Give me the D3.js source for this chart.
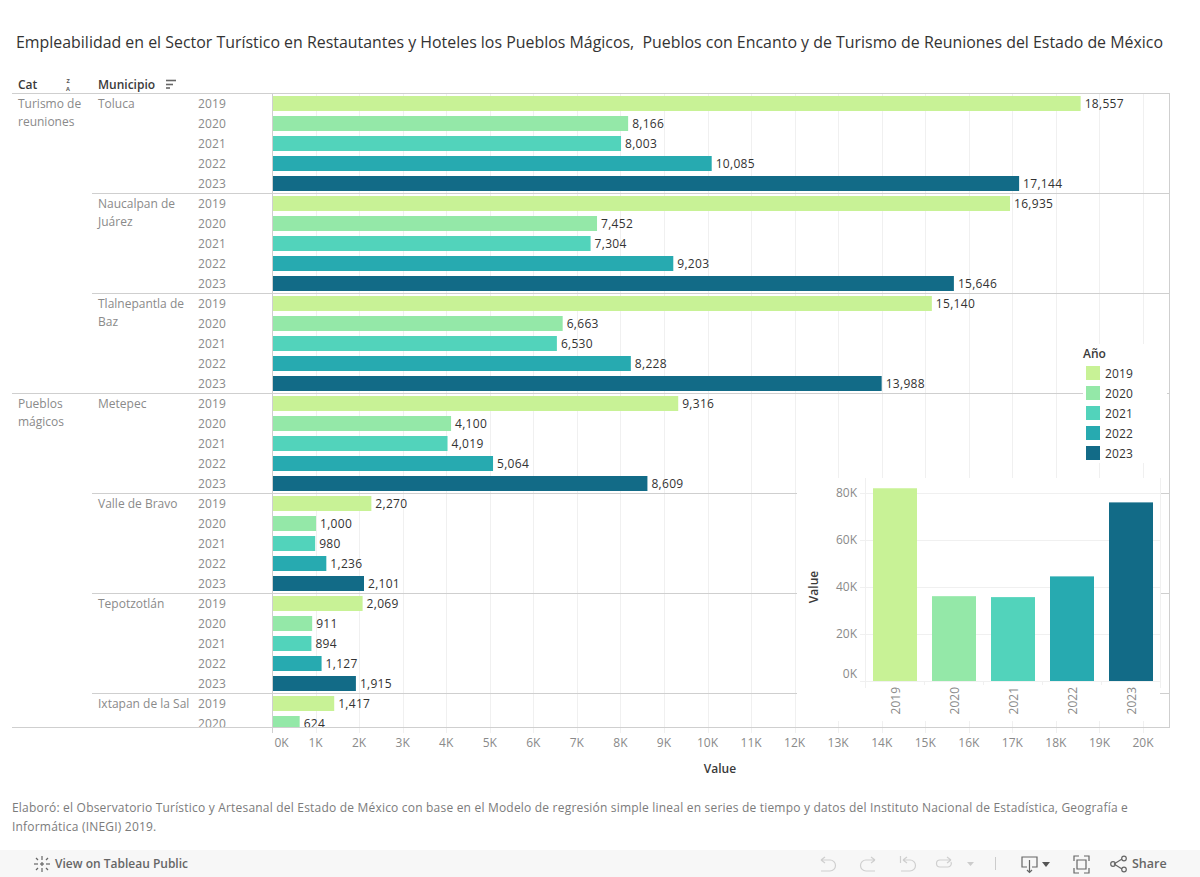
<!DOCTYPE html>
<html><head><meta charset="utf-8">
<script src="https://cdnjs.cloudflare.com/ajax/libs/d3/7.8.5/d3.min.js"></script>
<style>
html,body{margin:0;padding:0;background:#fff;overflow:hidden}
svg{display:block}
text{font-family:"Open Sans",sans-serif;font-size:12px}
</style></head><body><svg id="c" width="1200" height="877"></svg>
<script>
const titleText="Empleabilidad en el Sector Turístico en Restautantes y Hoteles los Pueblos Mágicos,  Pueblos con Encanto y de Turismo de Reuniones del Estado de México";
const footnoteLines=["Elaboró: el Observatorio Turístico y Artesanal del Estado de México con base en el Modelo de regresión simple lineal en series de tiempo y datos del Instituto Nacional de Estadística, Geografía e","Informática (INEGI) 2019."];
const years=["2019","2020","2021","2022","2023"];
const yearColors=["#c8f296","#94e8a8","#52d3bb","#27aab0","#126b87"];
const categories=["Turismo de reuniones","Pueblos mágicos"];
const categoryLines=[["Turismo de","reuniones"],["Pueblos","mágicos"]];
const municipioLines=[["Toluca"],["Naucalpan de","Juárez"],["Tlalnepantla de","Baz"],["Metepec"],["Valle de Bravo"],["Tepotzotlán"],["Ixtapan de la Sal"]];
const municipioCategory=[0,0,0,1,1,1,1];
const toluca=[18557,8166,8003,10085,17144];
const naucalpan=[16935,7452,7304,9203,15646];
const tlalnepantla=[15140,6663,6530,8228,13988];
const metepec=[9316,4100,4019,5064,8609];
const valleDeBravo=[2270,1000,980,1236,2101];
const tepotzotlan=[2069,911,894,1127,1915];
const ixtapan=[1417,624];
const municipioValues=[toluca,naucalpan,tlalnepantla,metepec,valleDeBravo,tepotzotlan,ixtapan];
const insetTotals=[81800,36000,35600,44400,75800];
const xTicks=d3.range(0,21000,1000);
const insetTicks=[0,20000,40000,60000,80000];

const FONT='"Open Sans",sans-serif';
const grey="#8a8a8a",dark="#333",lineC="#cfcfcf",gridC="#f0f0f0";
const svg=d3.select("#c");
const kFmt=d=>(d/1000)+"K";
const numFmt=d3.format(",");

svg.append("text").attr("x",16).attr("y",48).attr("fill",dark)
  .attr("textLength",1147).attr("lengthAdjust","spacingAndGlyphs")
  .style("font-size","15.5px").style("white-space","pre").text(titleText);

// rows
const rows=[];
municipioValues.forEach((vals,m)=>vals.forEach((v,i)=>rows.push({m,i,v})));
const totalRows=municipioValues.length*5;
const x=d3.scaleLinear().domain([0,20000]).range([272.5,1143.5]);
const y=d3.scaleBand().domain(d3.range(totalRows)).range([93.5,93.5+totalRows*20]).paddingInner(.25).paddingOuter(.125);
const rowIndex=d=>d.m*5+d.i;
const rowTop=i=>93.5+i*20;

const defs=svg.append("defs");
defs.append("clipPath").attr("id","pane").append("rect").attr("x",0).attr("y",94).attr("width",1200).attr("height",633);

// header
const hdr=svg.append("g").attr("fill","#3a3a3a").style("font-weight",600);
hdr.append("text").attr("x",18).attr("y",89).text("Cat");
hdr.append("text").attr("x",98).attr("y",89).text("Municipio");
const za=svg.append("g").attr("fill","#555").style("font-weight",700);
za.append("text").attr("x",68).attr("y",82.8).attr("text-anchor","middle").style("font-size","5.6px").text("Z");
za.append("text").attr("x",68).attr("y",90.6).attr("text-anchor","middle").style("font-size","5.6px").text("A");
[[166,176,80.5],[166,173,84.5],[166,170,88]].forEach(s=>svg.append("line").attr("x1",s[0]).attr("x2",s[1]).attr("y1",s[2]).attr("y2",s[2]).attr("stroke","#666").attr("stroke-width",1.6));

// grid + x axis
const xAxisG=svg.append("g").attr("transform","translate(0,727)")
  .call(d3.axisBottom(x).tickValues(xTicks).tickFormat(kFmt).tickSize(0).tickPadding(11));
xAxisG.select(".domain").remove();
xAxisG.selectAll("text").attr("fill",grey).style("font-family",FONT).style("font-size","12px").attr("dx",-1);
xAxisG.selectAll("g.tick").filter(d=>d===0).select("text").attr("dx",8.5);
svg.append("g").selectAll("line").data(xTicks.slice(1)).join("line")
  .attr("x1",d=>Math.floor(x(d))+.5).attr("x2",d=>Math.floor(x(d))+.5).attr("y1",94).attr("y2",733)
  .attr("stroke",gridC);

// panes
const pane=svg.append("g").attr("clip-path","url(#pane)");
pane.selectAll("rect.bar").data(rows).join("rect").attr("class","bar")
  .attr("x",x(0)).attr("y",d=>y(rowIndex(d))).attr("width",d=>x(d.v)-x(0)).attr("height",y.bandwidth())
  .attr("fill",d=>yearColors[d.i]);
pane.selectAll("text.val").data(rows).join("text").attr("class","val")
  .attr("x",d=>x(d.v)+4).attr("y",d=>y(rowIndex(d))+y.bandwidth()/2+4.5).attr("fill",dark).style("letter-spacing",".3px").text(d=>numFmt(d.v));
pane.selectAll("text.yr").data(rows).join("text").attr("class","yr")
  .attr("x",198).attr("y",d=>y(rowIndex(d))+y.bandwidth()/2+4.5).attr("fill",grey).style("letter-spacing",".15px").text(d=>years[d.i]);
municipioLines.forEach((ls,m)=>ls.forEach((t,j)=>pane.append("text").attr("x",98).attr("y",rowTop(m*5)+14.5+j*18).attr("fill",grey).text(t)));
categoryLines.forEach((ls,c)=>{const first=municipioCategory.indexOf(c);
  ls.forEach((t,j)=>pane.append("text").attr("x",18).attr("y",rowTop(first*5)+14.5+j*18).attr("fill",grey).text(t));});

// separators
const seps=d3.range(1,municipioValues.length);
svg.append("g").selectAll("line").data(seps).join("line")
  .attr("x1",m=>municipioCategory[m]!==municipioCategory[m-1]?12:92).attr("x2",1169)
  .attr("y1",m=>rowTop(m*5)).attr("y2",m=>rowTop(m*5)).attr("stroke",lineC);
const frame=svg.append("g").attr("stroke",lineC).attr("fill","none");
frame.append("line").attr("x1",12).attr("x2",1170).attr("y1",93.5).attr("y2",93.5);
frame.append("line").attr("x1",12).attr("x2",1170).attr("y1",727.5).attr("y2",727.5);
frame.append("line").attr("x1",272.5).attr("x2",272.5).attr("y1",93).attr("y2",733);
frame.append("line").attr("x1",1169.5).attr("x2",1169.5).attr("y1",93).attr("y2",728);

// legend
svg.append("rect").attr("x",1083).attr("y",344).attr("width",84).attr("height",119).attr("fill","#fff");
svg.append("text").attr("x",1083).attr("y",358).attr("fill","#3a3a3a").style("font-weight",600).text("Año");
const leg=svg.append("g").selectAll("g").data(years).join("g").attr("transform",(d,i)=>`translate(1086,${366+i*20})`);
leg.append("rect").attr("width",14).attr("height",14).attr("fill",(d,i)=>yearColors[i]);
leg.append("text").attr("x",19).attr("y",11.5).attr("fill",dark).style("letter-spacing",".15px").text(d=>d);

// inset
svg.append("rect").attr("x",797).attr("y",478).attr("width",363).attr("height",243).attr("fill","#fff");
const ix=d3.scaleBand().domain(years).range([865.5,1160.5]).paddingInner(15/59).paddingOuter(7.5/59);
const iy=d3.scaleLinear().domain([0,80000]).range([681,492.5]);
svg.append("g").selectAll("line").data(insetTicks).join("line")
  .attr("x1",860).attr("x2",1161).attr("y1",d=>Math.round(iy(d))+.5).attr("y2",d=>Math.round(iy(d))+.5).attr("stroke",gridC);
svg.append("g").selectAll("line").data([865.5,1160.5]).join("line").attr("x1",d=>d).attr("x2",d=>d).attr("y1",478).attr("y2",688).attr("stroke",gridC);
svg.append("g").selectAll("rect").data(insetTotals).join("rect")
  .attr("x",(d,i)=>ix(years[i])).attr("width",ix.bandwidth()).attr("y",d=>iy(d)).attr("height",d=>iy(0)-iy(d)).attr("fill",(d,i)=>yearColors[i]);
const iyAxis=svg.append("g").attr("transform","translate(860,0)").call(d3.axisLeft(iy).tickValues(insetTicks).tickFormat(kFmt).tickSize(0).tickPadding(3));
iyAxis.select(".domain").remove();
iyAxis.selectAll("text").attr("fill",grey).style("font-family",FONT).style("font-size","12px");
iyAxis.selectAll("g.tick").filter(d=>d===0).select("text").attr("dy","-0.3em");
const ixAxis=svg.append("g").attr("transform","translate(0,681)").call(d3.axisBottom(ix).tickSize(0));
ixAxis.select(".domain").remove();
ixAxis.selectAll("text").attr("fill",grey).style("font-family",FONT).style("font-size","12px")
  .attr("transform","rotate(-90)").attr("text-anchor","end").attr("x",-6).attr("y",0).attr("dy","0.4em");
svg.append("g").selectAll("line").data(d3.range(1,5)).join("line").attr("x1",d=>865.5+d*59).attr("x2",d=>865.5+d*59).attr("y1",681).attr("y2",685).attr("stroke",gridC);
svg.append("text").attr("transform","translate(818,587) rotate(-90)").attr("text-anchor","middle").attr("fill","#3a3a3a").style("font-size","12px").style("font-weight",600).text("Value");

// x title
svg.append("text").attr("x",720).attr("y",773).attr("text-anchor","middle").attr("fill","#3a3a3a").style("font-size","12px").style("font-weight",600).text("Value");

// footnote
svg.append("g").selectAll("text").data(footnoteLines).join("text").attr("x",12).attr("y",(d,i)=>812+i*18.5).attr("fill","#7b7b7b").style("letter-spacing",".2px").text(d=>d);

// toolbar
svg.append("rect").attr("x",0).attr("y",850).attr("width",1200).attr("height",27).attr("fill","#f7f7f7");
svg.append("text").attr("x",55).attr("y",868).attr("fill","#666").style("font-weight",600).style("font-size","12px").text("View on Tableau Public");
svg.append("text").attr("x",1132).attr("y",868).attr("fill","#666").style("font-weight",600).style("font-size","12.5px").text("Share");
const ic=svg.append("g").attr("fill","none").attr("stroke","#cfcfcf").attr("stroke-width",1.2);
ic.append("path").attr("d","M821 860h9a5.5 5.5 0 0 1 0 11h-9M821 860l4 -3M821 860l4 3");
ic.append("path").attr("d","M875 860h-9a5.5 5.5 0 0 0 0 11h9M875 860l-4 -3M875 860l-4 3");
ic.append("path").attr("d","M900.5 856v7M903 860h7a5.5 5.5 0 0 1 0 11h-9M903 860l4 -3M903 860l4 3");
ic.append("path").attr("d","M951 860h-11a3.5 3.5 0 0 0 0 7h8a3.5 3.5 0 0 0 3 -5M951 860l-4 -3M951 860l-4 3");
svg.append("path").attr("d","M967 862h7l-3.5 4z").attr("fill","#ccc");
svg.append("line").attr("x1",995.5).attr("x2",995.5).attr("y1",857).attr("y2",870).attr("stroke","#ccc");
const ic2=svg.append("g").attr("fill","none").attr("stroke","#666").attr("stroke-width",1.2);
ic2.append("path").attr("d","M1027 867h-5v-10h15v10h-5M1029.5 860v12M1027 870l2.5 2.5l2.5 -2.5");
svg.append("path").attr("d","M1042 862h8l-4 5z").attr("fill","#555");
ic2.append("path").attr("d","M1077 860h9v9h-9zM1074 861v-5h5M1089 861v-5h-5M1074 868v5h5M1089 868v5h-5");
ic2.append("path").attr("d","M1114 864l8 -5M1114 864l8 5");
ic2.append("circle").attr("cx",1113).attr("cy",864).attr("r",2.3);
ic2.append("circle").attr("cx",1124).attr("cy",858.5).attr("r",2.3);
ic2.append("circle").attr("cx",1124).attr("cy",869.5).attr("r",2.3);
const lg=svg.append("g").attr("stroke","#666").attr("stroke-width",1.2);
[[42,856,42,860],[42,868,42,872],[34,864,38,864],[46,864,50,864],[36,858,38,860],[48,858,46,860],[36,870,38,868],[48,870,46,868],[40,864,44,864],[42,862,42,866]].forEach(s=>lg.append("line").attr("x1",s[0]).attr("y1",s[1]).attr("x2",s[2]).attr("y2",s[3]));
</script></body></html>
